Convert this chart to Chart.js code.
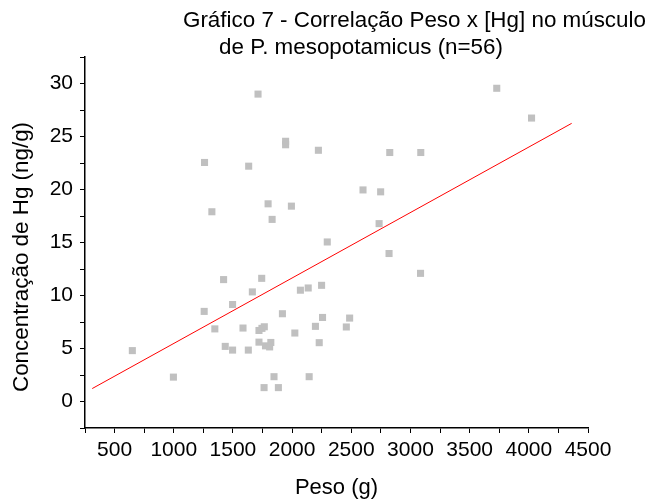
<!DOCTYPE html>
<html>
<head>
<meta charset="utf-8">
<script src="https://cdn.jsdelivr.net/npm/chart.js@4/dist/chart.umd.min.js"></script>
<style>
  html, body { margin: 0; padding: 0; background: #fff; }
  #wrap { width: 653px; height: 501px; }
</style>
</head>
<body>
<div id="wrap"><canvas id="scatterchart"></canvas></div>
<script>
/* data */
var peso = [650, 997, 1257, 1260, 1322, 1347, 1421, 1435, 1497, 1497,
  1585, 1630, 1633, 1664, 1712, 1720, 1745, 1765, 1743, 1720,
  1775, 1810, 1820, 1763, 1797, 1831, 1847, 1884, 1918, 1945,
  1945, 1994, 2023, 2070, 2136, 2144, 2197, 2222, 2229, 2249,
  2257, 2297, 2458, 2486, 2599, 2735, 2748, 2819, 2825, 3085,
  3087, 3729, 4023];
var hg = [4.8, 2.3, 8.5, 22.55, 17.9, 6.85, 11.5, 5.2, 9.15, 4.85,
  6.93, 4.85, 22.2, 10.34, 29.0, 6.7, 6.9, 7.05, 11.62, 5.6,
  5.25, 5.15, 5.57, 1.31, 18.65, 17.18, 2.34, 1.31, 8.28, 24.55,
  24.22, 18.43, 6.46, 10.5, 10.71, 2.34, 7.09, 23.7, 5.55, 10.96,
  7.93, 15.05, 7.03, 7.87, 19.96, 16.78, 19.78, 13.96, 23.49, 12.09,
  23.49, 29.55, 26.74];

// linear fit y = a + b*x, drawn between fitRange
var fitCoef = [-0.70, 0.006176];
var fitRange = [311, 4362];

var titleLines = ['Gráfico 7 - Correlação Peso x [Hg] no músculo', 'de P. mesopotamicus (n=56)'];
var yTitle = 'Concentração de Hg (ng/g)';

var points = peso.map(function (p, i) { return { x: p, y: hg[i] }; });
var fitLine = fitRange.map(function (x) { return { x: x, y: fitCoef[0] + fitCoef[1] * x }; });

var font = 'Liberation Sans, Arial, Helvetica, sans-serif';

// title and y title drawn by hand: Origin puts them off-centre
var titlePlugin = {
  id: 'originTitle',
  afterDraw: function (chart) {
    var ctx = chart.ctx;
    ctx.save();
    ctx.fillStyle = '#000';
    ctx.font = '22.4px ' + font;
    ctx.textBaseline = 'middle';
    ctx.textAlign = 'left';
    ctx.fillText(titleLines[0], 183, 21);
    ctx.fillText(titleLines[1], 219, 48);
    ctx.translate(22, 257);
    ctx.rotate(-Math.PI / 2);
    ctx.textAlign = 'center';
    ctx.fillText(yTitle, 0, 0);
    ctx.restore();
  }
};

var tickGrid = {
  drawOnChartArea: false,
  drawTicks: true,
  tickLength: 5,
  color: '#000',
  lineWidth: 1
};

new Chart(document.getElementById('scatterchart'), {
  type: 'scatter',
  data: {
    datasets: [{
      data: points,
      pointStyle: 'rect',
      pointRadius: 5,
      pointHoverRadius: 5,
      backgroundColor: '#c0c0c0',
      borderWidth: 0,
      order: 2
    }, {
      type: 'line',
      data: fitLine,
      borderColor: '#ff0000',
      borderWidth: 1,
      pointRadius: 0,
      fill: false,
      order: 1
    }]
  },
  options: {
    responsive: true,
    maintainAspectRatio: false,
    animation: false,
    layout: { padding: { top: 57, right: 65, left: 0, bottom: 0 } },
    plugins: {
      legend: { display: false },
      tooltip: { enabled: false }
    },
    scales: {
      x: {
        type: 'linear',
        min: 250,
        max: 4500,
        border: { display: true, color: '#000', width: 1.5 },
        grid: tickGrid,
        ticks: {
          stepSize: 250,
          autoSkip: false,
          maxRotation: 0,
          padding: 5,
          color: '#000',
          font: { family: font, size: 21 },
          callback: function (v) { return v % 500 === 0 ? v : ''; }
        },
        title: {
          display: true,
          text: 'Peso (g)',
          color: '#000',
          font: { family: font, size: 22, lineHeight: 0.85 }
        },
        afterFit: function (scale) { scale.height = 73; }
      },
      y: {
        type: 'linear',
        min: -2.5,
        max: 32.5,
        border: { display: true, color: '#000', width: 1.5 },
        grid: tickGrid,
        ticks: {
          stepSize: 2.5,
          autoSkip: false,
          padding: 7,
          color: '#000',
          font: { family: font, size: 21 },
          callback: function (v) { return v % 5 === 0 ? v : ''; }
        },
        afterFit: function (scale) { scale.width = 85; }
      }
    }
  },
  plugins: [titlePlugin]
});
</script>
</body>
</html>
